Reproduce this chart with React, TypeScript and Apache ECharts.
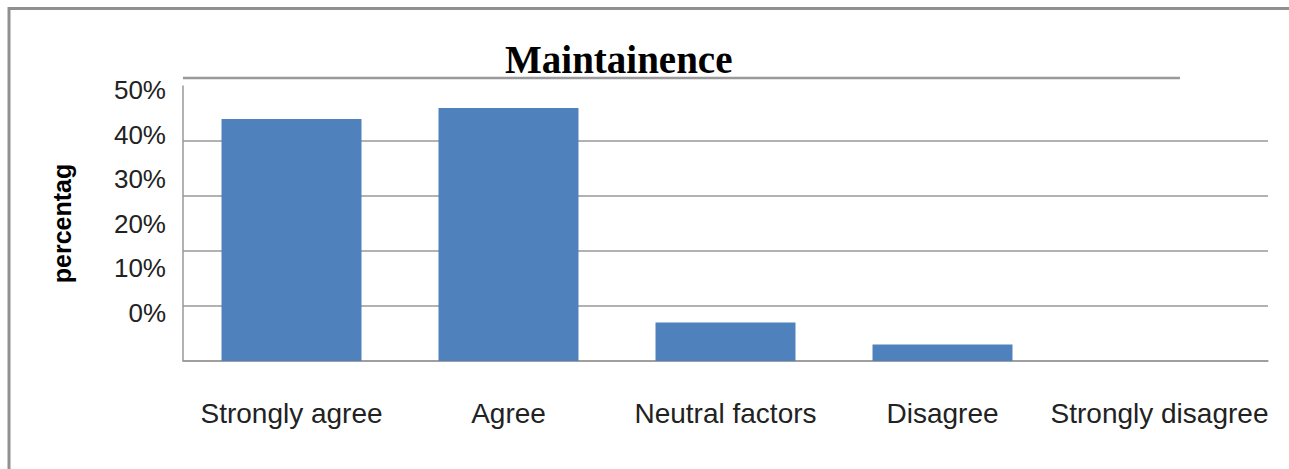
import React, { useEffect, useRef } from "react";
import * as echarts from "echarts";

const titleText = "Maintainence";
const yAxisName = "percentag";
const categories = ["Strongly agree", "Agree", "Neutral factors", "Disagree", "Strongly disagree"];
const percentValues = [44, 46, 7, 3, 0];
const yTickMin = 0;
const yTickMax = 50;
const yTickStep = 10;

export default function App() {
  const ref = useRef<HTMLDivElement>(null);

  useEffect(() => {
    if (!ref.current) return;
    const chart = echarts.init(ref.current, null, { renderer: "svg" });
    const sans = "'Liberation Sans', Arial, sans-serif";
    chart.setOption({
      animation: false,
      backgroundColor: "#ffffff",
      title: {
        text: titleText,
        left: 505,
        top: 40,
        padding: 0,
        textStyle: {
          fontFamily: "'Liberation Serif', 'Times New Roman', serif",
          fontWeight: "bold",
          fontSize: 39,
          lineHeight: 39,
          color: "#000000",
        },
      },
      grid: [
        { left: 183, right: 21, top: 86, bottom: 108, containLabel: false },
        { left: 183, right: 21, top: 90, bottom: 156, containLabel: false },
      ],
      xAxis: [
        {
          type: "category",
          gridIndex: 0,
          data: categories,
          axisLine: { show: true, lineStyle: { color: "#999999", width: 1.5 } },
          axisTick: { show: false },
          axisLabel: {
            interval: 0,
            margin: 38,
            fontFamily: sans,
            fontSize: 28,
            lineHeight: 28,
            color: "#222222",
          },
        },
        {
          type: "category",
          gridIndex: 1,
          data: categories,
          show: false,
        },
      ],
      yAxis: [
        {
          type: "value",
          gridIndex: 0,
          min: yTickMin,
          max: yTickMax,
          interval: yTickStep,
          name: yAxisName,
          nameLocation: "middle",
          nameRotate: 90,
          nameGap: 109,
          nameTextStyle: {
            fontFamily: sans,
            fontWeight: "bold",
            fontSize: 25,
            lineHeight: 25,
            color: "#000000",
          },
          axisLine: { show: true, lineStyle: { color: "#999999", width: 1.5 } },
          axisTick: { show: false },
          axisLabel: { show: false },
          splitLine: {
            show: true,
            showMaxLine: false,
            lineStyle: { color: "#999999", width: 1.5 },
          },
        },
        {
          type: "value",
          gridIndex: 1,
          min: yTickMin,
          max: yTickMax,
          interval: yTickStep,
          axisLine: { show: false },
          axisTick: { show: false },
          splitLine: { show: false },
          axisLabel: {
            show: true,
            margin: 17,
            fontFamily: sans,
            fontSize: 26,
            color: "#222222",
            formatter: (v: number) => `${v}%`,
          },
        },
      ],
      series: [
        {
          type: "bar",
          xAxisIndex: 0,
          yAxisIndex: 0,
          data: percentValues,
          barWidth: "64.5%",
          itemStyle: { color: "#4f81bd" },
        },
      ],
      graphic: [
        {
          type: "polyline",
          shape: { points: [[9, 469], [9, 8.5], [1289, 8.5]] },
          style: { fill: "none", stroke: "#909090", lineWidth: 3 },
          silent: true,
        },
        {
          type: "line",
          shape: { x1: 183, y1: 78, x2: 1180, y2: 78 },
          style: { stroke: "#999999", lineWidth: 2.5 },
          silent: true,
        },
      ],
    });
    return () => chart.dispose();
  }, []);

  return (
    <div
      ref={ref}
      style={{ position: "fixed", left: 0, top: 0, width: 1289, height: 469, background: "#fff" }}
    />
  );
}
